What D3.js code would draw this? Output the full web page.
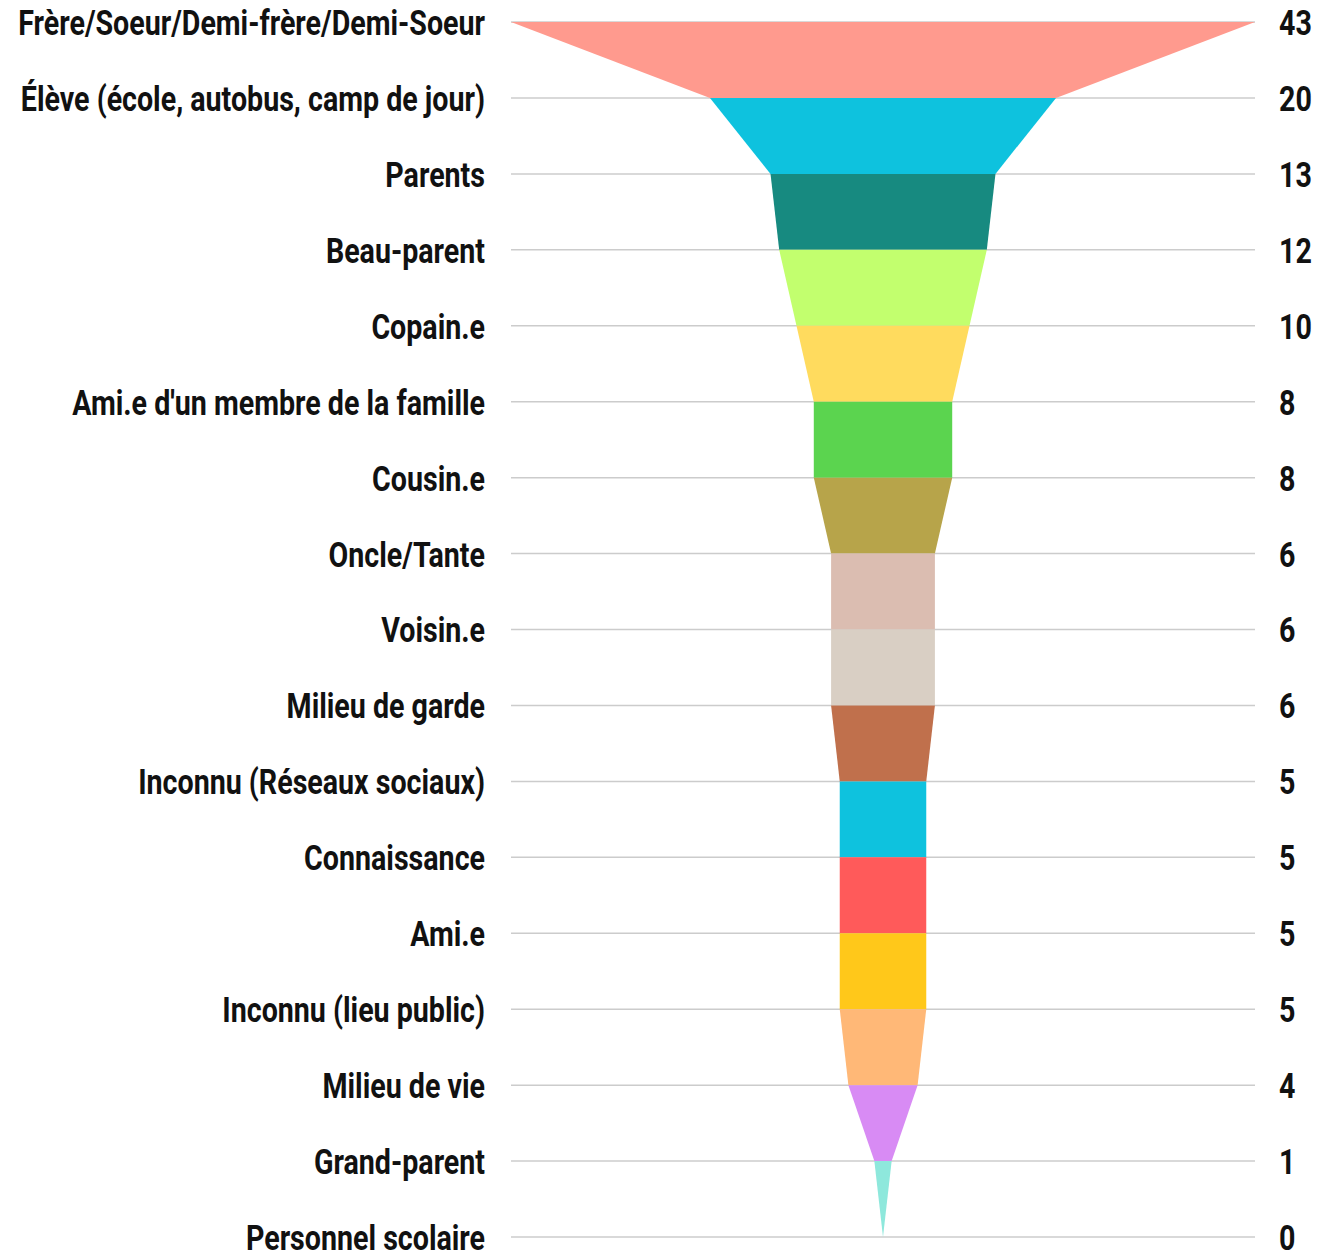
<!DOCTYPE html>
<html lang="fr">
<head>
<meta charset="UTF-8">
<script src="https://d3js.org/d3.v7.min.js"></script>
<title>Funnel</title>
<style>
  body { margin: 0; background: #fff; }
  text { font-family: Roboto, "DejaVu Sans", sans-serif; font-weight: bold; fill: #111; }
</style>
</head>
<body>
<svg id="chart"></svg>
<script>
const categories = [
  "Frère/Soeur/Demi-frère/Demi-Soeur",
  "Élève (école, autobus, camp de jour)",
  "Parents",
  "Beau-parent",
  "Copain.e",
  "Ami.e d'un membre de la famille",
  "Cousin.e",
  "Oncle/Tante",
  "Voisin.e",
  "Milieu de garde",
  "Inconnu (Réseaux sociaux)",
  "Connaissance",
  "Ami.e",
  "Inconnu (lieu public)",
  "Milieu de vie",
  "Grand-parent",
  "Personnel scolaire"
];
const values = [43, 20, 13, 12, 10, 8, 8, 6, 6, 6, 5, 5, 5, 5, 4, 1, 0];
const colors = [
  "#ff9a8e", "#0ec2de", "#178a80", "#c2ff6e", "#ffdb5e", "#5bd44f",
  "#b7a44a", "#dbbdb1", "#d9cfc4", "#c0704c", "#0ec2de", "#ff5a5a",
  "#ffc81a", "#ffb877", "#d88bf4", "#8ee8dc", "#cccccc"
];

const width = 1328, height = 1251;
const svg = d3.select("#chart").attr("width", width).attr("height", height);

const left = 511, right = 1255;
const cx = (left + right) / 2;

const y = d3.scalePoint().domain(categories).range([22, 1237]);
const half = d3.scaleLinear().domain([0, d3.max(values)]).range([0, (right - left) / 2]);

// grid lines
svg.append("g").selectAll("line")
  .data(categories)
  .join("line")
  .attr("x1", left).attr("x2", right)
  .attr("y1", d => y(d)).attr("y2", d => y(d))
  .attr("stroke", "#cccccc").attr("stroke-width", 1.5);

// funnel segments
const segs = d3.range(categories.length - 1).map(i => ({
  i, y0: y(categories[i]), y1: y(categories[i + 1]), v0: values[i], v1: values[i + 1]
}));
svg.append("g").selectAll("path")
  .data(segs)
  .join("path")
  .attr("d", d => `M${cx - half(d.v0)},${d.y0}L${cx + half(d.v0)},${d.y0}L${cx + half(d.v1)},${d.y1}L${cx - half(d.v1)},${d.y1}Z`)
  .attr("fill", d => colors[d.i]);

// category labels (squeezed horizontally to mimic a condensed face)
const labels = svg.append("g").selectAll("text")
  .data(categories)
  .join("text")
  .attr("dy", "0.37em")
  .attr("text-anchor", "end")
  .attr("font-size", 35)
  .text(d => d);

const widest = labels.nodes()[0].getComputedTextLength();
const k = 467 / widest;
labels.attr("transform", d => `translate(485,${y(d)}) scale(${k},1)`);

// values
svg.append("g").selectAll("text")
  .data(values)
  .join("text")
  .attr("transform", (d, i) => `translate(1279,${y(categories[i])}) scale(${k},1)`)
  .attr("dy", "0.37em")
  .attr("font-size", 35)
  .text(d => d);
</script>
</body>
</html>
